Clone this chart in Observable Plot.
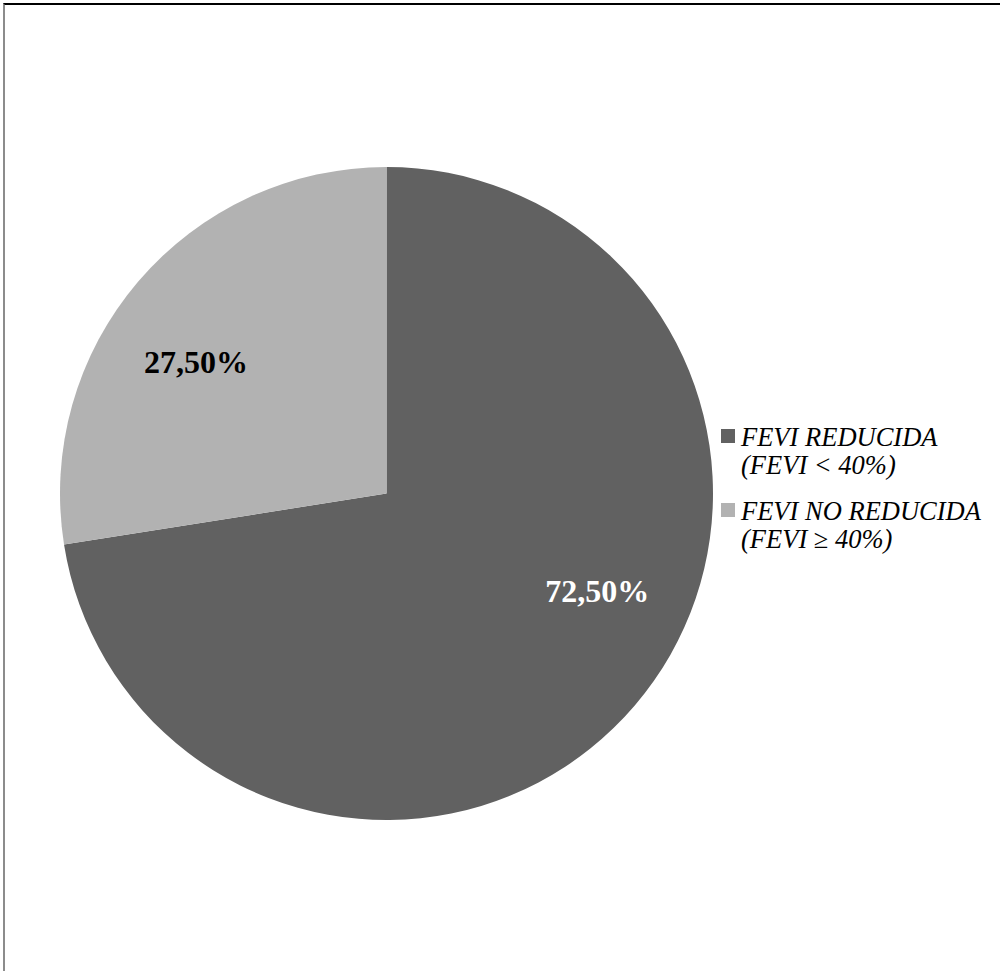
<!DOCTYPE html>
<html><head><meta charset="utf-8">
<script src="https://cdn.jsdelivr.net/npm/d3@7"></script>
<script src="https://cdn.jsdelivr.net/npm/@observablehq/plot@0.6"></script>
<style>
html,body{margin:0;padding:0;background:#fff;}
#wrap{position:relative;width:1000px;height:971px;overflow:hidden;background:#fff;}
#wrap svg{position:absolute;left:0;top:0;}
#frame{position:absolute;left:3px;top:3px;right:0;bottom:0;border-top:2px solid #000;border-left:2px solid #8c8c8c;pointer-events:none;}
</style></head><body><div id="wrap"><div id="frame"></div></div>
<script>
// Data
const categories = ["FEVI REDUCIDA", "FEVI NO REDUCIDA"];
const categoryNotes = ["(FEVI < 40%)", "(FEVI ≥ 40%)"];
const values = [72.5, 27.5];

// Styles / layout
const sliceColors = ["#616161", "#b2b2b2"];
const labelColors = ["#ffffff", "#000000"];
const cx = 386.5, cy = 493.5, R = 326.5;
const serif = "'Liberation Serif','Times New Roman',serif";

const rows = categories.map((c, i) => ({category: c, note: categoryNotes[i], value: values[i]}));
const slices = d3.pie().sort(null).value(d => d.value)(rows);
const fmt = d3.formatLocale({decimal: ",", thousands: ".", grouping: [3], currency: ["", "€"]}).format(".2f");
// label placed inside each slice, a little before its mid-angle ("best fit"-like)
const labelR = 0.71, labelFrac = 0.44;
const labels = slices.map(s => {
  const a = s.startAngle + (s.endAngle - s.startAngle) * labelFrac;
  return {x: labelR * Math.sin(a), y: labelR * Math.cos(a), text: fmt(s.data.value) + "%", color: labelColors[s.index]};
});

function pieMark(index, scales) {
  const x0 = scales.x(0), y0 = scales.y(0), r = scales.x(1) - x0;
  const arc = d3.arc().innerRadius(0).outerRadius(r);
  const g = d3.create("svg:g").attr("transform", `translate(${x0},${y0})`);
  g.selectAll("path").data(slices).join("path").attr("d", arc).attr("fill", d => sliceColors[d.index]);
  return g.node();
}

const svg = Plot.plot({
  width: 1000, height: 971,
  margin: 0,
  style: {background: "transparent", fontFamily: serif},
  x: {domain: [-1, 1], range: [cx - R, cx + R], axis: null},
  y: {domain: [-1, 1], range: [cy + R, cy - R], axis: null},
  color: {type: "identity"},
  marks: [
    pieMark,
    Plot.text(labels, {x: "x", y: "y", text: "text", fill: "color", fontSize: 32, fontWeight: "bold", fontFamily: serif})
  ]
});

// Legend
const sel = d3.select(svg);
const lg = sel.append("g").attr("font-family", serif).attr("font-style", "italic").attr("font-size", 26.5).attr("fill", "#000").attr("text-anchor", "start");
const legendTop = 429, itemStep = 74, sq = 14, lx = 721, tx = 741, lineH = 28;
rows.forEach((d, i) => {
  const top = legendTop + i * itemStep;
  lg.append("rect").attr("x", lx).attr("y", top).attr("width", sq).attr("height", sq).attr("fill", sliceColors[i]);
  lg.append("text").attr("x", tx).attr("y", top + 16.5).text(d.category);
  lg.append("text").attr("x", tx).attr("y", top + 16.5 + lineH).text(d.note);
});

document.getElementById("wrap").prepend(svg);
</script>
</body></html>
